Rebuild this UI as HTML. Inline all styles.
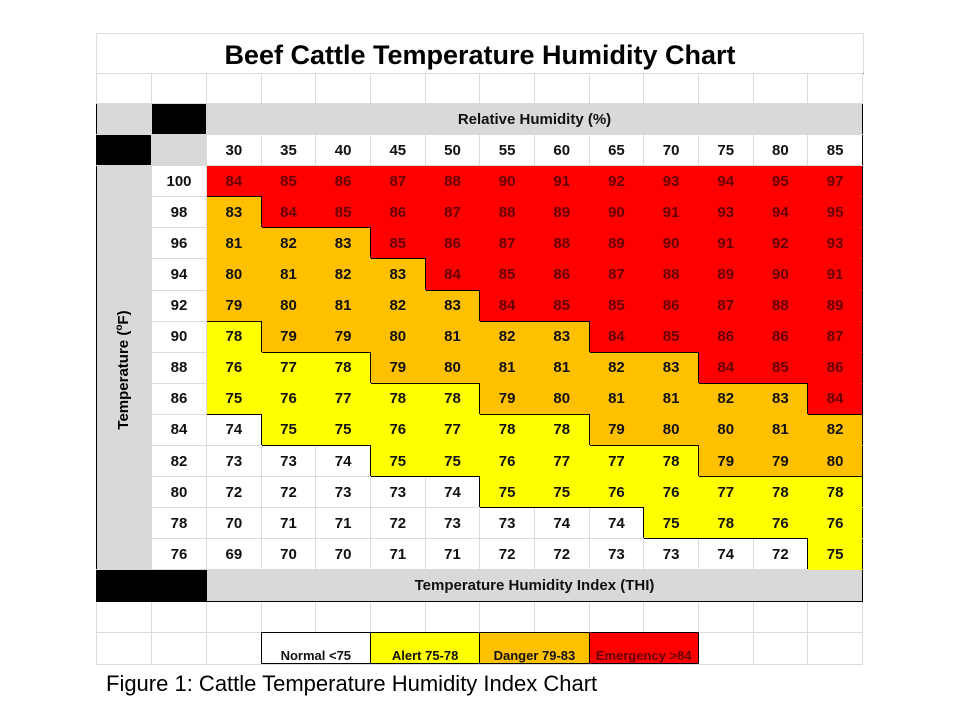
<!DOCTYPE html>
<html><head><meta charset="utf-8">
<style>
body{margin:0;background:#fff;width:960px;height:720px;position:relative;overflow:hidden;font-family:"Liberation Sans",Arial,sans-serif;}
#title{position:absolute;left:96px;top:33px;width:766px;height:39px;border-top:1px solid #e0e0e0;border-left:1px solid #e0e0e0;border-right:1px solid #e0e0e0;border-bottom:1px solid #000;text-align:center;font-weight:bold;font-size:27px;line-height:42px;color:#000;box-sizing:content-box}
table{position:absolute;left:96px;top:73px;border-collapse:collapse;table-layout:fixed;width:767px}
td{border:1px solid #dadada;padding:0;text-align:center;font-weight:bold;font-size:15px;color:#111;overflow:hidden;white-space:nowrap}
tr.e td{height:29px}
tr.r td{height:30.1px}
.g{background:#d9d9d9}
.k{background:#000}
.w{background:#fff}
.y{background:#ffff00}
.o{background:#ffc000}
.rd{background:#ff0000;color:#650000}
#cap{position:absolute;left:106px;top:671px;font-size:22px;color:#000}
.vt{position:absolute;left:103px;top:305px;width:40px;height:130px}
.vt span{position:absolute;left:50%;top:50%;transform:translate(-50%,-50%) rotate(-90deg);font-weight:bold;font-size:15px;white-space:nowrap}
#lg{position:absolute;left:261px;top:632px;width:436px;height:30px;border:1px solid #000;pointer-events:none}
.lb{position:absolute;top:633px;height:30px;border-left:1px solid #000}
</style></head><body>
<div id="title">Beef Cattle Temperature Humidity Chart</div>
<table id="t">
<colgroup><col style="width:55px"><col style="width:55px"><col span="12" style="width:54.67px"></colgroup>
<tr class="e"><td></td><td></td><td></td><td></td><td></td><td></td><td></td><td></td><td></td><td></td><td></td><td></td><td></td><td></td></tr>
<tr class="r"><td class="g" style="border-top:1px solid #000;border-left:1px solid #000"></td><td class="k" style="border-top:1px solid #000"></td><td class="g" colspan="12" style="border-top:1px solid #000;border-right:1px solid #000;border-bottom:1px solid #d9d9d9">Relative Humidity (%)</td></tr>
<tr class="r"><td class="k" style="border-left:1px solid #000"></td><td class="g"></td><td>30</td><td>35</td><td>40</td><td>45</td><td>50</td><td>55</td><td>60</td><td>65</td><td>70</td><td>75</td><td>80</td><td style="border-right:1px solid #000">85</td></tr>
<tr class="r d"><td class="g" rowspan="13" style="border-left:1px solid #000;border-color:#d9d9d9 #d9d9d9 #d9d9d9 #000"></td><td>100</td><td>84</td><td>85</td><td>86</td><td>87</td><td>88</td><td>90</td><td>91</td><td>92</td><td>93</td><td>94</td><td>95</td><td>97</td></tr>
<tr class="r d"><td>98</td><td>83</td><td>84</td><td>85</td><td>86</td><td>87</td><td>88</td><td>89</td><td>90</td><td>91</td><td>93</td><td>94</td><td>95</td></tr>
<tr class="r d"><td>96</td><td>81</td><td>82</td><td>83</td><td>85</td><td>86</td><td>87</td><td>88</td><td>89</td><td>90</td><td>91</td><td>92</td><td>93</td></tr>
<tr class="r d"><td>94</td><td>80</td><td>81</td><td>82</td><td>83</td><td>84</td><td>85</td><td>86</td><td>87</td><td>88</td><td>89</td><td>90</td><td>91</td></tr>
<tr class="r d"><td>92</td><td>79</td><td>80</td><td>81</td><td>82</td><td>83</td><td>84</td><td>85</td><td>85</td><td>86</td><td>87</td><td>88</td><td>89</td></tr>
<tr class="r d"><td>90</td><td>78</td><td>79</td><td>79</td><td>80</td><td>81</td><td>82</td><td>83</td><td>84</td><td>85</td><td>86</td><td>86</td><td>87</td></tr>
<tr class="r d"><td>88</td><td>76</td><td>77</td><td>78</td><td>79</td><td>80</td><td>81</td><td>81</td><td>82</td><td>83</td><td>84</td><td>85</td><td>86</td></tr>
<tr class="r d"><td>86</td><td>75</td><td>76</td><td>77</td><td>78</td><td>78</td><td>79</td><td>80</td><td>81</td><td>81</td><td>82</td><td>83</td><td>84</td></tr>
<tr class="r d"><td>84</td><td>74</td><td>75</td><td>75</td><td>76</td><td>77</td><td>78</td><td>78</td><td>79</td><td>80</td><td>80</td><td>81</td><td>82</td></tr>
<tr class="r d"><td>82</td><td>73</td><td>73</td><td>74</td><td>75</td><td>75</td><td>76</td><td>77</td><td>77</td><td>78</td><td>79</td><td>79</td><td>80</td></tr>
<tr class="r d"><td>80</td><td>72</td><td>72</td><td>73</td><td>73</td><td>74</td><td>75</td><td>75</td><td>76</td><td>76</td><td>77</td><td>78</td><td>78</td></tr>
<tr class="r d"><td>78</td><td>70</td><td>71</td><td>71</td><td>72</td><td>73</td><td>73</td><td>74</td><td>74</td><td>75</td><td>78</td><td>76</td><td>76</td></tr>
<tr class="r d"><td>76</td><td>69</td><td>70</td><td>70</td><td>71</td><td>71</td><td>72</td><td>72</td><td>73</td><td>73</td><td>74</td><td>72</td><td>75</td></tr>
<tr class="r"><td class="k" colspan="2" style="border:1px solid #000"></td><td class="g" colspan="12" style="border:1px solid #000;border-left:none">Temperature Humidity Index (THI)</td></tr>
<tr class="r"><td></td><td></td><td></td><td></td><td></td><td></td><td></td><td></td><td></td><td></td><td></td><td></td><td></td><td></td></tr>
<tr class="r"><td></td><td></td><td></td><td colspan="2" class="w" style="font-size:13px;vertical-align:bottom;padding-bottom:1px">Normal &lt;75</td><td colspan="2" class="y" style="font-size:13px;vertical-align:bottom;padding-bottom:1px">Alert 75-78</td><td colspan="2" class="o" style="font-size:13px;vertical-align:bottom;padding-bottom:1px">Danger 79-83</td><td colspan="2" class="rd" style="font-size:13px;vertical-align:bottom;padding-bottom:1px">Emergency &gt;84</td><td></td><td></td><td></td></tr>
</table>
<div id="lg"></div>
<div class="lb" style="left:370px"></div>
<div class="lb" style="left:479px"></div>
<div class="lb" style="left:589px"></div>
<div class="vt"><span>Temperature (<sup style="font-size:10px">o</sup>F)</span></div>
<div id="cap">Figure 1: Cattle Temperature Humidity Index Chart</div>
<script>
var rows=[].slice.call(document.querySelectorAll('tr.d'));
var grid=[];
rows.forEach(function(tr,i){
  var tds=[].slice.call(tr.querySelectorAll('td')).filter(function(td){return !td.classList.contains('g')});
  var cells=tds.slice(1);
  grid.push(cells);
  cells.forEach(function(td){var v=+td.textContent;td.dataset.z=v>=84?3:v>=79?2:v>=75?1:0;td.className=['w','y','o','rd'][td.dataset.z];});
});
grid.forEach(function(r,i){r.forEach(function(td,j){
  var z=td.dataset.z;
  if(z>0)td.style.borderColor=getComputedStyle(td).backgroundColor;
  if(j<11&&grid[i][j+1].dataset.z!=z)td.style.borderRight='1px solid #000';
  if(i<12&&grid[i+1][j].dataset.z!=z)td.style.borderBottom='1px solid #000';
  if(j==0)td.style.borderLeft='1px solid #000';
  if(j==11)td.style.borderRight='1px solid #000';
});});
</script>
</body></html>
